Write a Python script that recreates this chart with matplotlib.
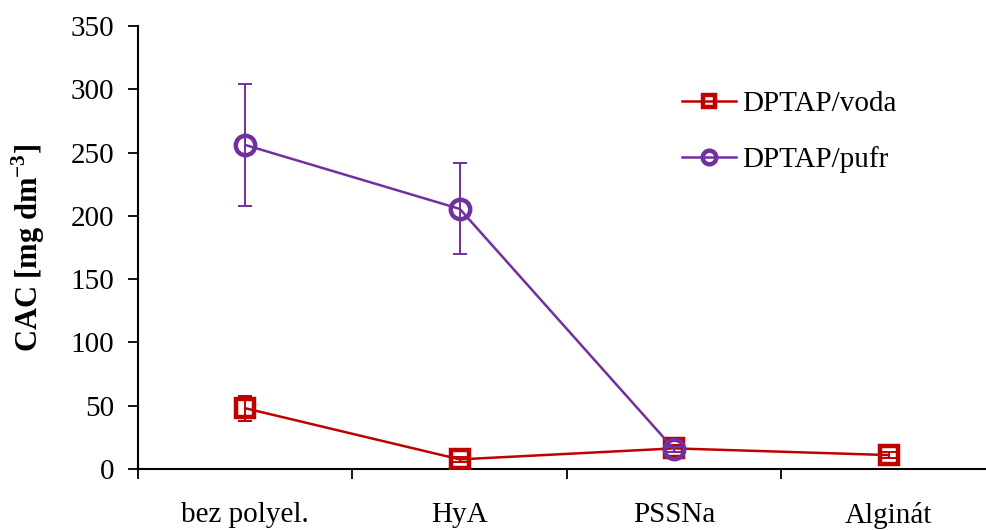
import matplotlib
matplotlib.use("Agg")
import matplotlib.pyplot as plt
import numpy as np

categories = ["bez polyel.", "HyA", "PSSNa", "Alginát"]
voda = [48.0, 7.6, 16.3, 11.0]
voda_err = [10.0, 2.0, 2.5, 2.6]
pufr = [256.0, 205.5, 15.5]
pufr_err = [48.0, 36.0, 2.0]
yticks = [0, 50, 100, 150, 200, 250, 300, 350]

RED = "#C00000"
PURPLE = "#7030A0"

plt.rcParams["font.family"] = ["Liberation Serif", "DejaVu Serif"]
plt.rcParams["mathtext.fontset"] = "custom"
plt.rcParams["mathtext.rm"] = "Liberation Serif"
plt.rcParams["mathtext.bf"] = "Liberation Serif:bold"

fig = plt.figure(figsize=(9.87, 5.30), dpi=100)
ax = fig.add_axes([138 / 987, 1 - 469 / 530, (996 - 138) / 987, (469 - 26) / 530])

x_voda = np.arange(len(voda)) + 0.5
x_pufr = np.arange(len(pufr)) + 0.5

ax.errorbar(x_voda, voda, yerr=voda_err, fmt="none", ecolor=RED,
            elinewidth=1.4, capsize=5, capthick=1.4, zorder=2)
ax.plot(x_voda, voda, color=RED, lw=1.8, marker="s", ms=13, mew=3.2,
        mfc="none", mec=RED, label="DPTAP/voda", zorder=3)
ax.errorbar(x_pufr, pufr, yerr=pufr_err, fmt="none", ecolor=PURPLE,
            elinewidth=1.4, capsize=5, capthick=1.4, zorder=4)
ax.plot(x_pufr, pufr, color=PURPLE, lw=1.8, marker="o", ms=14, mew=3.2,
        mfc="none", mec=PURPLE, label="DPTAP/pufr", zorder=5)

ax.set_xlim(0, 4)
ax.set_ylim(0, 350)
ax.set_yticks(yticks)
ax.set_xticks([0, 1, 2, 3, 4])
ax.set_xticklabels([])
ax.set_xticks(x_voda, minor=True)
ax.set_xticklabels(categories, minor=True)
ax.tick_params(axis="x", which="minor", length=0, pad=24, labelsize=21)
ax.tick_params(axis="x", which="major", direction="out", length=7, width=1.3)
ax.tick_params(axis="y", direction="out", length=7, width=1.3, labelsize=21, pad=10)

for side in ("top", "right"):
    ax.spines[side].set_visible(False)
for side in ("left", "bottom"):
    ax.spines[side].set_linewidth(1.5)

ax.set_ylabel(r"CAC [mg dm$^{\mathbf{-3}}$]", fontsize=22, fontweight="bold", labelpad=17)

ax.legend(loc="upper left", bbox_to_anchor=(0.604, 0.914), frameon=False,
          fontsize=21, handlelength=1.85, handletextpad=0.2, labelspacing=1.0,
          markerscale=0.7)

fig.savefig("out.png", dpi=100)
